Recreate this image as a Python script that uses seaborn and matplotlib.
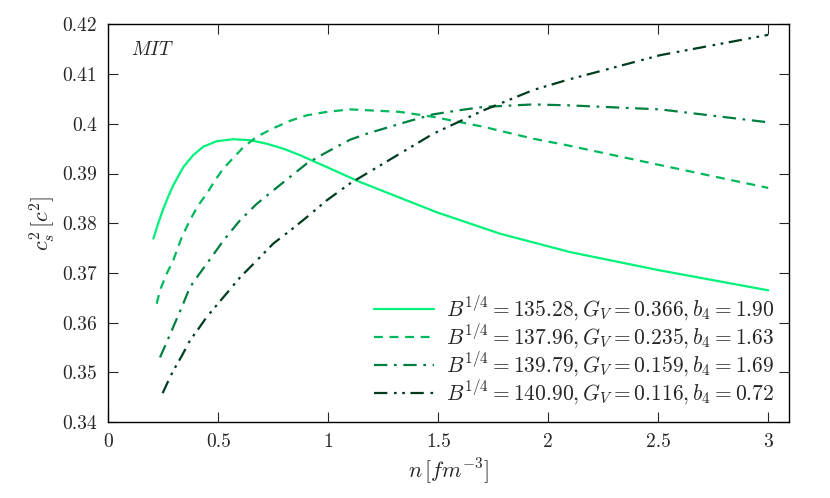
import matplotlib
matplotlib.use("Agg")
import matplotlib.pyplot as plt
import matplotlib.ticker as mticker
import seaborn as sns
import pandas as pd

# curva 1
n1 = [0.205, 0.227, 0.25, 0.273, 0.295, 0.341, 0.386, 0.432, 0.493, 0.568, 0.644, 0.72, 0.795,
      0.871, 0.947, 1.008, 1.144, 1.493, 1.78, 2.098, 2.508, 3.0]
cs1 = [0.3769, 0.3800, 0.3829, 0.3854, 0.3876, 0.3913, 0.3937, 0.3954, 0.3965, 0.3969, 0.3967, 0.3960, 0.3950,
       0.3937, 0.3922, 0.3910, 0.3883, 0.3822, 0.3779, 0.3742, 0.3705, 0.3665]
# curva 2
n2 = [0.22, 0.235, 0.265, 0.295, 0.334, 0.371, 0.409, 0.447, 0.485, 0.523, 0.614, 0.675, 0.75, 0.826,
      0.902, 0.993, 1.099, 1.326, 1.477, 1.705, 1.932, 2.084, 2.508, 3.0]
cs2 = [0.3638, 0.3665, 0.3698, 0.3725, 0.3772, 0.3806, 0.3836, 0.3859, 0.3886, 0.3910, 0.3953, 0.3974, 0.3991, 0.4006,
       0.4017, 0.4024, 0.4029, 0.4024, 0.4014, 0.3994, 0.3970, 0.3957, 0.3917, 0.3871]
# curva 3
n3 = [0.235, 0.265, 0.295, 0.334, 0.371, 0.409, 0.447, 0.523, 0.599, 0.675, 0.75, 0.826, 0.902, 0.993,
      1.099, 1.175, 1.25, 1.364, 1.477, 1.591, 1.705, 1.932, 2.099, 2.508, 3.0]
cs3 = [0.3530, 0.3560, 0.3591, 0.3631, 0.3671, 0.3695, 0.3718, 0.3765, 0.3806, 0.3839, 0.3866, 0.3893, 0.3920, 0.3943,
       0.3968, 0.3980, 0.3990, 0.4005, 0.4019, 0.4027, 0.4034, 0.4039, 0.4037, 0.4029, 0.4003]
# curva 4
n4 = [0.247, 0.273, 0.295, 0.334, 0.371, 0.409, 0.447, 0.523, 0.599, 0.675, 0.75, 0.826, 0.902, 0.993,
      1.099, 1.25, 1.477, 1.705, 1.932, 2.084, 2.508, 3.0]
cs4 = [0.3458, 0.3483, 0.3503, 0.3533, 0.3564, 0.3587, 0.3611, 0.3651, 0.3691, 0.3725, 0.3759, 0.3785, 0.3812, 0.3846,
       0.3880, 0.3920, 0.3980, 0.4027, 0.4068, 0.4088, 0.4138, 0.4179]

rotulos = [
    r"$B^{1/4}=135.28,G_V=0.366,b_4=1.90$",
    r"$B^{1/4}=137.96,G_V=0.235,b_4=1.63$",
    r"$B^{1/4}=139.79,G_V=0.159,b_4=1.69$",
    r"$B^{1/4}=140.90,G_V=0.116,b_4=0.72$",
]
cores = ["#00f27a", "#00b85c", "#008040", "#003d1f"]
tracos = [(None, None), (4, 3), (6, 3, 1.2, 3), (6, 3, 1.2, 2.5, 1.2, 2.5)]

sns.set_style("ticks")
plt.rcParams["font.family"] = "serif"
plt.rcParams["font.serif"] = ["cmr10", "DejaVu Serif"]
plt.rcParams["mathtext.fontset"] = "cm"
plt.rcParams["axes.formatter.use_mathtext"] = True

fig = plt.figure(figsize=(8.3, 4.98), dpi=100)
ax = fig.add_axes([0.1305, 0.1526, 0.8205, 0.7984])

series = [(n1, cs1), (n2, cs2), (n3, cs3), (n4, cs4)]
for (x, y), rot, cor, tr in zip(series, rotulos, cores, tracos):
    df = pd.DataFrame({"n": x, "cs2": y})
    linha = sns.lineplot(data=df, x="n", y="cs2", ax=ax, color=cor, linewidth=1.6,
                         label=rot, sort=False, estimator=None)
    if tr[0] is not None:
        linha.lines[-1].set_dashes(tr)

ax.set_xlim(0, 3.096)
ax.set_ylim(0.34, 0.42)
ax.xaxis.set_major_locator(mticker.MultipleLocator(0.5))
ax.yaxis.set_major_locator(mticker.MultipleLocator(0.01))
ax.xaxis.set_major_formatter(mticker.FormatStrFormatter("%g"))
ax.yaxis.set_major_formatter(mticker.FuncFormatter(lambda v, p: "%g" % round(v, 3)))
ax.tick_params(direction="in", length=7, width=0.8, top=True, right=True, labelsize=14, pad=8)
for s in ax.spines.values():
    s.set_linewidth(1.0)
    s.set_color("black")

ax.set_xlabel(r"$n\,[fm^{-3}]$", fontsize=16)
ax.set_ylabel(r"$c_s^2\,[c^2]$", fontsize=16)
ax.text(0.034, 0.935, r"$MIT$", transform=ax.transAxes, fontsize=14, va="center")

leg = ax.legend(loc="lower right", frameon=False, fontsize=15.5, handlelength=2.8,
                labelspacing=0.0, borderaxespad=0.3, handletextpad=0.55)

fig.savefig("out.png", dpi=100)
